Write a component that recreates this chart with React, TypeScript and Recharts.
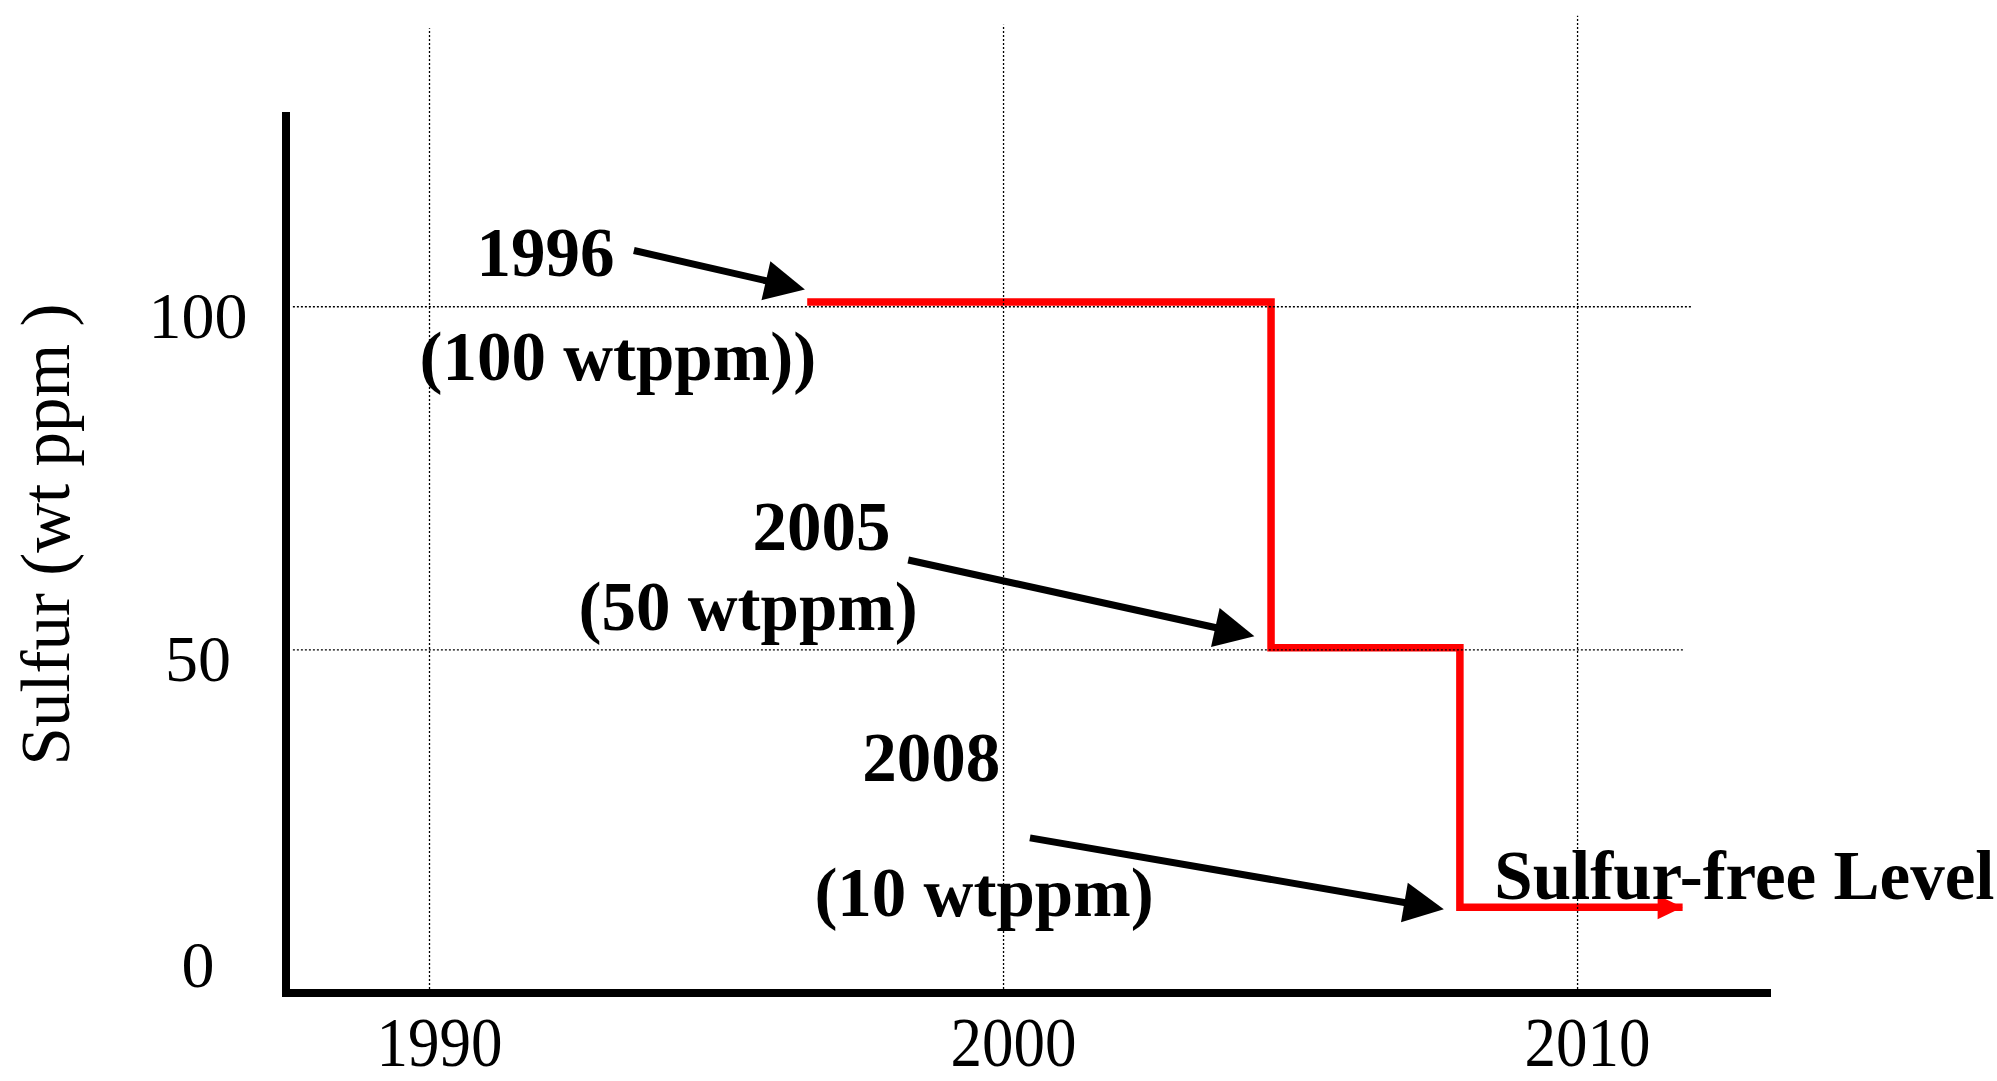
import React from 'react';
import { LineChart, Line, XAxis, YAxis, ReferenceLine, ReferenceDot } from 'recharts';

// ---- data ----
const stepYears = [1996.58, 2004.66, 2007.95, 2011.83];
const stepPpm = [100.7, 50.3, 12.5, 12.5];

const xTicks = [1990, 2000, 2010];
const yTicks = [0, 50, 100];

const annotationTexts = ['1996', '(100 wtppm))', '2005', '(50 wtppm)', '2008', '(10 wtppm)', 'Sulfur-free Level'];
const annotationYears = [1992.02, 1993.28, 1996.83, 1995.55, 1998.74, 1999.66, 2008.55];
const annotationPpm = [104.5, 89.3, 64.6, 52.9, 30.9, 11.2, 13.7];

const arrowFromYears = [1993.56, 1998.34, 2000.46];
const arrowFromPpm = [108.2, 63.1, 22.6];
const arrowToYears = [1996.54, 2004.37, 2007.67];
const arrowToPpm = [102.5, 52.0, 12.2];

const vGridYears = [1990, 2000, 2010];
const vGridTopPpm = [140.6, 141.1, 142.4];
const hGridPpm = [100, 50];
const hGridFromYears = [1987.62, 1987.62];
const hGridToYears = [2011.98, 2011.86];

const yAxisTitle = 'Sulfur (wt ppm )';

// ---- chart table ----
const chartData = stepYears.map((year, i) => ({ year, ppm: stepPpm[i] }));

const FONT = '"Liberation Serif", "Times New Roman", Times, serif';
const ANNOTATION_ANCHORS = ['middle', 'middle', 'middle', 'middle', 'middle', 'middle', 'start'];

const YTick = (props: any) => {
  const { x, y, payload } = props;
  const dy = payload.value === 0 ? -6 : 31;
  return (
    <text x={x - 88} y={y + dy} textAnchor="middle" fontFamily={FONT} fontSize={66} fill="#000">
      {payload.value}
    </text>
  );
};

const XTick = (props: any) => {
  const { x, y, payload } = props;
  return (
    <text
      transform={`translate(${x + 10},${y + 73}) scale(0.9,1)`}
      textAnchor="middle"
      fontFamily={FONT}
      fontSize={70}
      fill="#000"
    >
      {payload.value}
    </text>
  );
};

const ArrowShape = (p: any) => {
  const { x1, y1, x2, y2 } = p;
  const dx = x2 - x1;
  const dy = y2 - y1;
  const len = Math.hypot(dx, dy) || 1;
  const ux = dx / len;
  const uy = dy / len;
  const headLen = 40;
  const headHalf = 20;
  const bx = x2 - ux * headLen;
  const by = y2 - uy * headLen;
  const nx = -uy;
  const ny = ux;
  return (
    <g>
      <line
        x1={x1}
        y1={y1}
        x2={x2 - ux * headLen * 0.6}
        y2={y2 - uy * headLen * 0.6}
        stroke="#000"
        strokeWidth={7}
      />
      <polygon
        points={`${x2},${y2} ${bx + nx * headHalf},${by + ny * headHalf} ${bx - nx * headHalf},${by - ny * headHalf}`}
        fill="#000"
      />
    </g>
  );
};

const RedDot = (props: any) => {
  const { cx, cy, index } = props;
  if (index !== chartData.length - 1) return <g key={`d-${index}`} />;
  return (
    <polygon
      key={`d-${index}`}
      points={`${cx},${cy} ${cx - 25},${cy - 12} ${cx - 25},${cy + 12}`}
      fill="#ff0000"
    />
  );
};

const AxisTitle = (props: any) => {
  const vb = props.viewBox || { x: 0, y: 116, width: 286, height: 877 };
  const cy = vb.y + vb.height / 2 - 20;
  return (
    <text
      transform={`translate(${vb.x + 69},${cy}) rotate(-90)`}
      textAnchor="middle"
      fontFamily={FONT}
      fontSize={69}
      fill="#000"
    >
      {yAxisTitle}
    </text>
  );
};

export default function App() {
  return (
    <div style={{ position: 'absolute', left: 0, top: 0, background: '#fff' }}>
      <LineChart
        width={1997}
        height={1081}
        data={chartData}
        margin={{ top: 116, right: 230, bottom: 0, left: 0 }}
      >
        <XAxis
          dataKey="year"
          type="number"
          domain={[1987.5, 2013.3]}
          allowDataOverflow
          ticks={xTicks}
          interval={0}
          height={88}
          tickSize={0}
          tickMargin={0}
          tickLine={false}
          axisLine={{ stroke: '#000', strokeWidth: 8, strokeLinecap: 'square' }}
          tick={<XTick />}
        />
        <YAxis
          type="number"
          domain={[0, 127.8]}
          allowDataOverflow
          ticks={yTicks}
          interval={0}
          width={286}
          tickSize={0}
          tickMargin={0}
          tickLine={false}
          axisLine={{ stroke: '#000', strokeWidth: 8, strokeLinecap: 'square' }}
          tick={<YTick />}
          label={{ content: <AxisTitle /> }}
        />
        <Line
          type="stepAfter"
          dataKey="ppm"
          stroke="#ff0000"
          strokeWidth={7.5}
          dot={<RedDot />}
          activeDot={false}
          isAnimationActive={false}
        />
        {vGridYears.map((yr, i) => (
          <ReferenceLine
            key={`vg-${i}`}
            segment={[{ x: yr, y: 0 }, { x: yr, y: vGridTopPpm[i] }]}
            stroke="#000"
            strokeWidth={1.3}
            strokeDasharray="2 2"
            ifOverflow="visible"
          />
        ))}
        {hGridPpm.map((v, i) => (
          <ReferenceLine
            key={`hg-${i}`}
            segment={[{ x: hGridFromYears[i], y: v }, { x: hGridToYears[i], y: v }]}
            stroke="#000"
            strokeWidth={1.3}
            strokeDasharray="2 2"
            ifOverflow="visible"
          />
        ))}
        {arrowFromYears.map((yr, i) => (
          <ReferenceLine
            key={`ar-${i}`}
            segment={[{ x: yr, y: arrowFromPpm[i] }, { x: arrowToYears[i], y: arrowToPpm[i] }]}
            ifOverflow="visible"
            shape={ArrowShape}
          />
        ))}
        {annotationTexts.map((t, i) => (
          <ReferenceDot
            key={`an-${i}`}
            x={annotationYears[i]}
            y={annotationPpm[i]}
            r={1}
            ifOverflow="visible"
            shape={(p: any) => (
              <text
                x={p.cx}
                y={p.cy}
                textAnchor={ANNOTATION_ANCHORS[i] as any}
                fontFamily={FONT}
                fontWeight="bold"
                fontSize={69}
                fill="#000"
              >
                {t}
              </text>
            )}
          />
        ))}
      </LineChart>
    </div>
  );
}
